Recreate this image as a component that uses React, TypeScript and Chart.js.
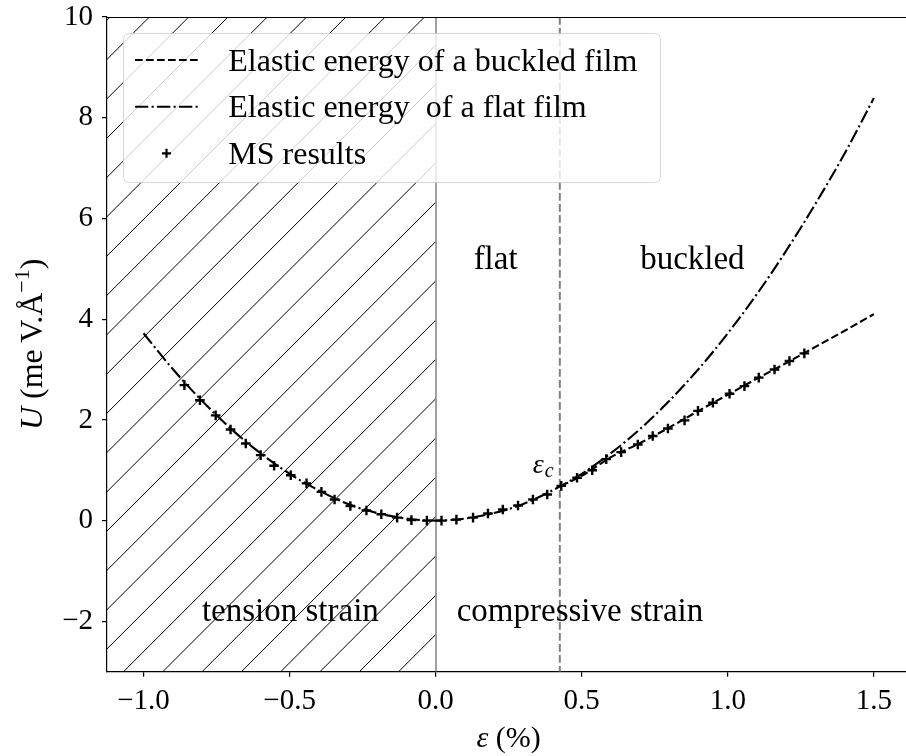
import React, { useEffect, useRef } from "react";
import { Chart, registerables } from "chart.js";

Chart.register(...registerables);

// ---------- data ----------
const flatX = [-1.0, -0.9, -0.8, -0.7, -0.6, -0.5, -0.4, -0.3, -0.2, -0.1, 0.0, 0.1, 0.2, 0.3, 0.4, 0.5, 0.6, 0.7, 0.8, 0.9, 1.0, 1.1, 1.2, 1.3, 1.4, 1.5];
const flatY = [3.72, 3.01, 2.38, 1.82, 1.34, 0.93, 0.6, 0.33, 0.15, 0.04, 0.0, 0.04, 0.15, 0.33, 0.6, 0.93, 1.34, 1.82, 2.38, 3.01, 3.72, 4.5, 5.36, 6.29, 7.29, 8.39];

const buckledX = [0.43, 0.5, 0.6, 0.7, 0.8, 0.9, 1.0, 1.1, 1.2, 1.3, 1.4, 1.5];
const buckledY = [0.69, 0.89, 1.26, 1.54, 1.85, 2.18, 2.5, 2.82, 3.13, 3.45, 3.77, 4.1];

const msX = [-0.86, -0.807, -0.753, -0.702, -0.65, -0.599, -0.553, -0.496, -0.442, -0.391, -0.346, -0.292, -0.237, -0.186, -0.132, -0.083, -0.03, 0.02, 0.071, 0.128, 0.179, 0.23, 0.282, 0.333, 0.382, 0.43, 0.484, 0.536, 0.584, 0.635, 0.692, 0.743, 0.795, 0.852, 0.898, 0.949, 1.006, 1.057, 1.106, 1.16, 1.211, 1.262];
const msY = [2.69, 2.39, 2.09, 1.81, 1.53, 1.3, 1.09, 0.9, 0.74, 0.57, 0.42, 0.29, 0.2, 0.125, 0.06, 0.01, 0.0, 0.0, 0.02, 0.06, 0.14, 0.22, 0.3, 0.42, 0.52, 0.69, 0.85, 1.0, 1.22, 1.36, 1.51, 1.68, 1.83, 1.99, 2.18, 2.34, 2.52, 2.67, 2.84, 3.0, 3.17, 3.32];

const xTicks = [-1.0, -0.5, 0.0, 0.5, 1.0, 1.5];
const yTicks = [-2, 0, 2, 4, 6, 8, 10];
const xRange = [-1.125, 1.61];
const yRange = [-3, 10];

const criticalStrain = 0.425;

const legendLabels = ["Elastic energy of a buckled film", "Elastic energy  of a flat film", "MS results"];

// text annotations: [text, x (data), y (data)]
const regionLabels: [string, number, number][] = [
  ["flat", 0.13, 5.0],
  ["buckled", 0.7, 5.0],
  ["tension strain", -0.8, -2.0],
  ["compressive strain", 0.072, -2.0],
];
const criticalLabelPos = [0.332, 0.94];

// ---------- styles ----------
const SERIF = '"Liberation Serif", "Times New Roman", serif';
const DASHED = [7.7, 3.3];
const DASHDOT = [13.3, 3.3, 2.1, 3.3];
const minus = (s: string) => s.replace("-", "\u2212");

const decorPlugin = {
  id: "decor",
  beforeDatasetsDraw(chart: any) {
    const { ctx, chartArea } = chart;
    const { left, top, right, bottom } = chartArea;
    const xs = chart.scales.x;
    const x0 = xs.getPixelForValue(0);
    // hatch of the tension region
    ctx.save();
    ctx.beginPath();
    ctx.rect(left, top, x0 - left, bottom - top);
    ctx.clip();
    ctx.strokeStyle = "#000";
    ctx.lineWidth = 1;
    const s = 39.3;
    const ph = 9.2;
    let c = Math.floor((left + top - ph) / s) * s + ph;
    ctx.beginPath();
    for (; c <= x0 + bottom + s; c += s) {
      ctx.moveTo(c - bottom, bottom);
      ctx.lineTo(c - top, top);
    }
    ctx.stroke();
    ctx.restore();

    ctx.save();
    ctx.beginPath();
    ctx.rect(left, top, right - left, bottom - top);
    ctx.clip();
    // solid gray line at 0
    ctx.strokeStyle = "#808080";
    ctx.lineWidth = 1.5;
    ctx.beginPath();
    ctx.moveTo(Math.round(x0), top);
    ctx.lineTo(Math.round(x0), bottom);
    ctx.stroke();
    // dashed critical strain line
    const xc = xs.getPixelForValue(criticalStrain);
    ctx.lineWidth = 2;
    ctx.setLineDash(DASHED);
    ctx.beginPath();
    ctx.moveTo(xc, top);
    ctx.lineTo(xc, bottom);
    ctx.stroke();
    ctx.restore();
  },
  afterDatasetsDraw(chart: any) {
    const { ctx } = chart;
    const xs = chart.scales.x;
    const ys = chart.scales.y;
    ctx.save();
    ctx.fillStyle = "#000";
    ctx.textAlign = "left";
    ctx.textBaseline = "alphabetic";
    ctx.font = `33px ${SERIF}`;
    for (const [t, x, y] of regionLabels) {
      ctx.fillText(t, xs.getPixelForValue(x), ys.getPixelForValue(y));
    }
    // epsilon_c
    const ex = xs.getPixelForValue(criticalLabelPos[0]);
    const ey = ys.getPixelForValue(criticalLabelPos[1]);
    ctx.font = `italic 28px ${SERIF}`;
    ctx.fillText("\u03b5", ex, ey);
    const w = ctx.measureText("\u03b5").width;
    ctx.font = `italic 20px ${SERIF}`;
    ctx.fillText("c", ex + w + 1, ey + 4);

    // legend
    const lx = 123.5, ly = 33.5, lw = 537, lh = 149, r = 6;
    ctx.beginPath();
    ctx.moveTo(lx + r, ly);
    ctx.lineTo(lx + lw - r, ly);
    ctx.arcTo(lx + lw, ly, lx + lw, ly + r, r);
    ctx.lineTo(lx + lw, ly + lh - r);
    ctx.arcTo(lx + lw, ly + lh, lx + lw - r, ly + lh, r);
    ctx.lineTo(lx + r, ly + lh);
    ctx.arcTo(lx, ly + lh, lx, ly + lh - r, r);
    ctx.lineTo(lx, ly + r);
    ctx.arcTo(lx, ly, lx + r, ly, r);
    ctx.closePath();
    ctx.fillStyle = "rgba(255,255,255,0.8)";
    ctx.fill();
    ctx.strokeStyle = "rgba(204,204,204,0.8)";
    ctx.lineWidth = 1;
    ctx.stroke();

    const rows = [60, 106.7, 153.3];
    const hx0 = 135, hx1 = 198;
    ctx.strokeStyle = "#000";
    ctx.lineWidth = 2.1;
    ctx.setLineDash(DASHED);
    ctx.beginPath();
    ctx.moveTo(hx0, rows[0]);
    ctx.lineTo(hx1, rows[0]);
    ctx.stroke();
    ctx.setLineDash(DASHDOT);
    ctx.beginPath();
    ctx.moveTo(hx0, rows[1]);
    ctx.lineTo(hx1, rows[1]);
    ctx.stroke();
    ctx.setLineDash([]);
    ctx.lineWidth = 2.2;
    const pcx = (hx0 + hx1) / 2;
    ctx.beginPath();
    ctx.moveTo(pcx - 4.5, rows[2]);
    ctx.lineTo(pcx + 4.5, rows[2]);
    ctx.moveTo(pcx, rows[2] - 4.5);
    ctx.lineTo(pcx, rows[2] + 4.5);
    ctx.stroke();

    ctx.fillStyle = "#000";
    ctx.font = `32px ${SERIF}`;
    legendLabels.forEach((t, i) => ctx.fillText(t, 228.3, rows[i] + 10.5));
    ctx.restore();
  },
  afterDraw(chart: any) {
    const { ctx, chartArea } = chart;
    const { left, top, right } = chartArea;
    const xs = chart.scales.x;
    ctx.save();
    // top spine
    ctx.strokeStyle = "#000";
    ctx.lineWidth = 1.2;
    ctx.beginPath();
    ctx.moveTo(left, Math.round(top) + 0.5);
    ctx.lineTo(right, Math.round(top) + 0.5);
    ctx.stroke();

    ctx.fillStyle = "#000";
    ctx.textBaseline = "alphabetic";
    // x label: "ε (%)"
    const cx = xs.getPixelForValue(0.25);
    ctx.font = `italic 30px ${SERIF}`;
    const w1 = ctx.measureText("\u03b5").width;
    ctx.font = `30px ${SERIF}`;
    const w2 = ctx.measureText(" (%)").width;
    let x = cx - (w1 + w2) / 2;
    ctx.font = `italic 30px ${SERIF}`;
    ctx.fillText("\u03b5", x, 746.5);
    ctx.font = `30px ${SERIF}`;
    ctx.fillText(" (%)", x + w1, 746.5);

    // y label: "U (meV.Å^-1)"
    ctx.translate(42, (chartArea.top + chartArea.bottom) / 2);
    ctx.rotate(-Math.PI / 2);
    const parts: [string, string, number][] = [
      ["U", `italic 32px ${SERIF}`, 0],
      [" (me\u2009V.\u00c5", `32px ${SERIF}`, 0],
      ["\u22121", `22px ${SERIF}`, -13],
      [")", `32px ${SERIF}`, 0],
    ];
    let total = 0;
    const widths = parts.map(([t, f]) => {
      ctx.font = f;
      const ww = ctx.measureText(t).width;
      total += ww;
      return ww;
    });
    x = -total / 2;
    parts.forEach(([t, f, dy], i) => {
      ctx.font = f;
      ctx.fillText(t, x, dy);
      x += widths[i];
    });
    ctx.restore();
  },
};

export default function App() {
  const ref = useRef<HTMLCanvasElement | null>(null);
  useEffect(() => {
    if (!ref.current) return;
    const tickFont = { family: SERIF, size: 29 };
    const chart = new Chart(ref.current, {
      type: "scatter",
      data: {
        datasets: [
          {
            label: legendLabels[2],
            data: msX.map((x, i) => ({ x, y: msY[i] })),
            showLine: false,
            pointStyle: "cross",
            pointRadius: 4.8,
            borderColor: "#000",
            backgroundColor: "#000",
            borderWidth: 2.4,
          },
          {
            label: legendLabels[0],
            data: buckledX.map((x, i) => ({ x, y: buckledY[i] })),
            showLine: true,
            borderColor: "#000",
            borderWidth: 2.1,
            borderDash: DASHED,
            pointRadius: 0,
            cubicInterpolationMode: "monotone",
            fill: false,
          },
          {
            label: legendLabels[1],
            data: flatX.map((x, i) => ({ x, y: flatY[i] })),
            showLine: true,
            borderColor: "#000",
            borderWidth: 2.1,
            borderDash: DASHDOT,
            pointRadius: 0,
            cubicInterpolationMode: "monotone",
            fill: false,
          },
        ] as any,
      },
      options: {
        animation: false,
        responsive: false,
        devicePixelRatio: 1,
        events: [],
        layout: { autoPadding: false, padding: { left: 0, right: 0, top: 17, bottom: 0 } },
        plugins: { legend: { display: false }, tooltip: { enabled: false } },
        scales: {
          x: {
            type: "linear",
            min: xRange[0],
            max: xRange[1],
            afterBuildTicks: (s: any) => {
              s.ticks = xTicks.map((v) => ({ value: v }));
            },
            afterFit: (s: any) => {
              s.height = 84.3;
              s.paddingLeft = 0;
              s.paddingRight = 0;
            },
            grid: { display: true, drawOnChartArea: false, drawTicks: true, tickLength: 5, color: "#000", lineWidth: 1.2 },
            border: { display: true, color: "#000", width: 1.2 },
            ticks: {
              autoSkip: false,
              maxRotation: 0,
              color: "#000",
              font: tickFont,
              padding: 7,
              callback: (v: any) => minus(Number(v).toFixed(1)),
            },
          },
          y: {
            type: "linear",
            min: yRange[0],
            max: yRange[1],
            afterBuildTicks: (s: any) => {
              s.ticks = yTicks.map((v) => ({ value: v }));
            },
            afterFit: (s: any) => {
              s.width = 107;
              s.paddingTop = 0;
              s.paddingBottom = 0;
            },
            grid: { display: true, drawOnChartArea: false, drawTicks: true, tickLength: 5, color: "#000", lineWidth: 1.2 },
            border: { display: true, color: "#000", width: 1.2 },
            ticks: {
              autoSkip: false,
              color: "#000",
              font: tickFont,
              padding: 9,
              callback: (v: any) => minus(String(v)),
            },
          },
        },
      } as any,
      plugins: [decorPlugin],
    });
    return () => chart.destroy();
  }, []);
  return (
    <div style={{ position: "absolute", left: 0, top: 0, width: 906, height: 756, overflow: "hidden", background: "#fff" }}>
      <canvas ref={ref} width={906} height={756} style={{ display: "block" }} />
    </div>
  );
}
